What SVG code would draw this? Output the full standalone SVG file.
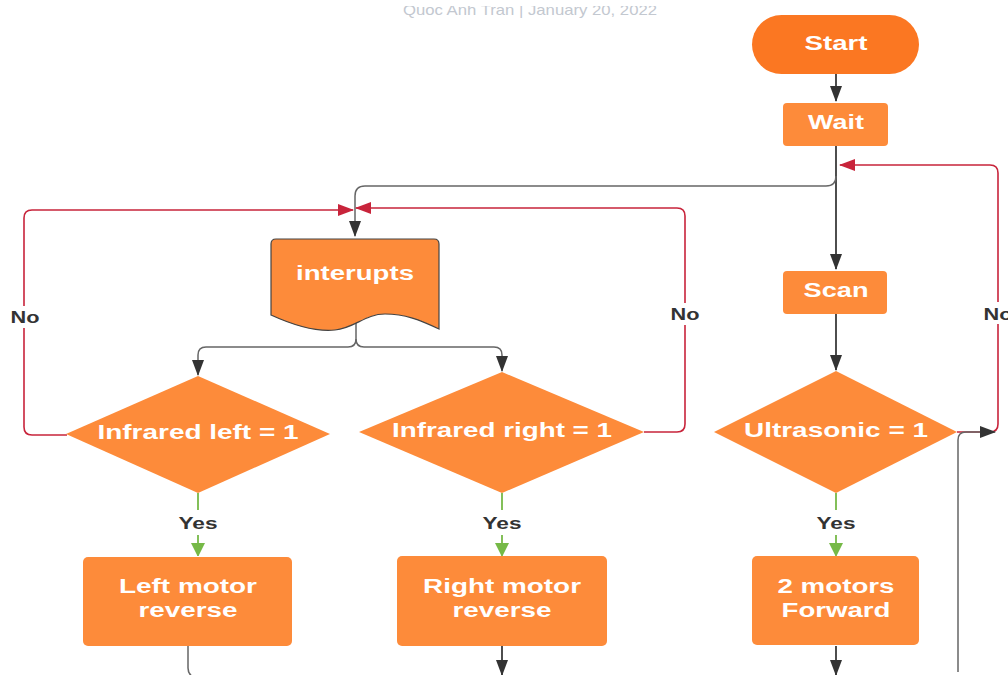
<svg xmlns="http://www.w3.org/2000/svg" width="1008" height="675" viewBox="0 0 1008 675">
<style>
.box{fill:#fd8b3a;}
.lbl{font-family:"Liberation Sans",Arial,sans-serif;font-weight:bold;font-size:20px;fill:#ffffff;text-anchor:middle;}
.cl{font-family:"Liberation Sans",Arial,sans-serif;font-weight:bold;font-size:17px;fill:#333333;text-anchor:middle;}
.blk{fill:none;stroke:#3a3a3a;stroke-width:1.8;}
.gry{fill:none;stroke:#666666;stroke-width:1.5;}
.red{fill:none;stroke:#c8243b;stroke-width:1.6;}
.grn{fill:none;stroke:#76b947;stroke-width:1.8;}
</style>
<defs>
<marker id="ar" markerWidth="16" markerHeight="12" refX="15" refY="6" orient="auto" markerUnits="userSpaceOnUse"><path d="M0,0 L16,6 L0,12 z" fill="#c8243b"/></marker>
<marker id="ag" markerWidth="12" markerHeight="14" refX="13" refY="7" orient="auto" markerUnits="userSpaceOnUse"><path d="M0,0 L14,7 L0,14 z" fill="#76b947"/></marker>
<marker id="ak" markerWidth="16" markerHeight="12" refX="15" refY="6" orient="auto" markerUnits="userSpaceOnUse"><path d="M0,0 L16,6 L0,12 z" fill="#333333"/></marker>
<clipPath id="hdr"><rect x="0" y="6" width="1008" height="20"/></clipPath>
</defs>
<rect width="1008" height="675" fill="#ffffff"/>
<text x="530" y="15" clip-path="url(#hdr)" font-family="Liberation Sans,Arial,sans-serif" font-size="15" fill="#c3c8d0" text-anchor="middle" textLength="254" lengthAdjust="spacingAndGlyphs">Quoc Anh Tran  |  January 20, 2022</text>

<g id="connectors">
<path class="blk" d="M836,74 V101" marker-end="url(#ak)"/>
<path class="blk" d="M836,146 V269" marker-end="url(#ak)"/>
<path class="gry" d="M836,176 Q836,186 826,186 H365 Q355,186 355,196 V236" marker-end="url(#ak)"/>
<path class="blk" d="M836,314 V370" marker-end="url(#ak)"/>
<path class="red" d="M957,432 H990 Q998,432 998,424 V173 Q998,165 990,165 H840" marker-end="url(#ar)"/>
<path class="gry" d="M958,672 V440 Q958,432 966,432 H995" marker-end="url(#ak)"/>
<path class="gry" d="M356,322 V339 Q356,347 348,347 H206 Q198,347 198,355 V375" marker-end="url(#ak)"/>
<path class="gry" d="M356,339 Q356,347 364,347 H494 Q502,347 502,355 V371" marker-end="url(#ak)"/>
<path class="red" d="M67,435 H32 Q24,435 24,427 V218 Q24,210 32,210 H353" marker-end="url(#ar)"/>
<path class="red" d="M644,432 H677 Q685,432 685,424 V216 Q685,208 677,208 H356" marker-end="url(#ar)"/>
<path class="grn" d="M198,493 V510"/>
<path class="grn" d="M198,535 V556" marker-end="url(#ag)"/>
<path class="grn" d="M502,493 V510"/>
<path class="grn" d="M502,535 V556" marker-end="url(#ag)"/>
<path class="grn" d="M836,493 V510"/>
<path class="grn" d="M836,535 V556" marker-end="url(#ag)"/>
<path class="gry" d="M188,646 V668 Q188,675 195,678"/>
<path class="blk" d="M502,646 V675" marker-end="url(#ak)"/>
<path class="blk" d="M836,646 V675" marker-end="url(#ak)"/>
<rect x="8" y="306" width="34" height="22" fill="#ffffff"/>
<text class="cl" x="25" y="323" textLength="29" lengthAdjust="spacingAndGlyphs">No</text>
<rect x="668" y="303" width="34" height="22" fill="#ffffff"/>
<text class="cl" x="685" y="320" textLength="29" lengthAdjust="spacingAndGlyphs">No</text>
<rect x="984" y="302" width="24" height="22" fill="#ffffff"/>
<text class="cl" x="998" y="320" textLength="29" lengthAdjust="spacingAndGlyphs">No</text>
<text class="cl" x="198" y="529" textLength="39" lengthAdjust="spacingAndGlyphs">Yes</text>
<text class="cl" x="502" y="529" textLength="39" lengthAdjust="spacingAndGlyphs">Yes</text>
<text class="cl" x="836" y="529" textLength="39" lengthAdjust="spacingAndGlyphs">Yes</text>
</g>

<g id="start">
<rect x="752" y="15" width="167" height="59" rx="29.5" fill="#fb7722"/>
<text class="lbl" x="836" y="50" font-size="22" textLength="63" lengthAdjust="spacingAndGlyphs">Start</text>
</g>
<g id="wait">
<rect class="box" x="783" y="103" width="105" height="43" rx="4"/>
<text class="lbl" x="836" y="129" textLength="56" lengthAdjust="spacingAndGlyphs">Wait</text>
</g>
<g id="scan">
<rect class="box" x="783" y="271" width="104" height="43" rx="4"/>
<text class="lbl" x="836" y="297" textLength="65" lengthAdjust="spacingAndGlyphs">Scan</text>
</g>
<g id="interupts">
<path class="box" d="M271,244 Q271,239 276,239 H434 Q439,239 439,244 V329 C420,320 405,314 385,314 C365,314 355,328 335,330 C315,332 295,326 271,315 Z" stroke="#444444" stroke-width="1.2"/>
<text class="lbl" x="355" y="280" textLength="118" lengthAdjust="spacingAndGlyphs">interupts</text>
</g>
<g id="ir-left">
<path class="box" d="M198,376 L330,434 L198,493 L66,434 Z"/>
<text class="lbl" x="198" y="439" textLength="201" lengthAdjust="spacingAndGlyphs">Infrared left = 1</text>
</g>
<g id="ir-right">
<path class="box" d="M502,372 L644,432 L502,493 L359,432 Z"/>
<text class="lbl" x="502" y="437" textLength="220" lengthAdjust="spacingAndGlyphs">Infrared right = 1</text>
</g>
<g id="ultrasonic">
<path class="box" d="M836,371 L957,432 L836,493 L714,432 Z"/>
<text class="lbl" x="836" y="437" textLength="184" lengthAdjust="spacingAndGlyphs">Ultrasonic = 1</text>
</g>
<g id="left-motor">
<rect class="box" x="83" y="557" width="209" height="89" rx="5"/>
<text class="lbl" x="188" y="593" textLength="138" lengthAdjust="spacingAndGlyphs">Left motor</text>
<text class="lbl" x="188" y="617" textLength="99" lengthAdjust="spacingAndGlyphs">reverse</text>
</g>
<g id="right-motor">
<rect class="box" x="397" y="556" width="210" height="90" rx="5"/>
<text class="lbl" x="502" y="593" textLength="158" lengthAdjust="spacingAndGlyphs">Right motor</text>
<text class="lbl" x="502" y="617" textLength="99" lengthAdjust="spacingAndGlyphs">reverse</text>
</g>
<g id="two-motors">
<rect class="box" x="752" y="556" width="167" height="89" rx="5"/>
<text class="lbl" x="836" y="593" textLength="117" lengthAdjust="spacingAndGlyphs">2 motors</text>
<text class="lbl" x="836" y="617" textLength="109" lengthAdjust="spacingAndGlyphs">Forward</text>
</g>
</svg>
